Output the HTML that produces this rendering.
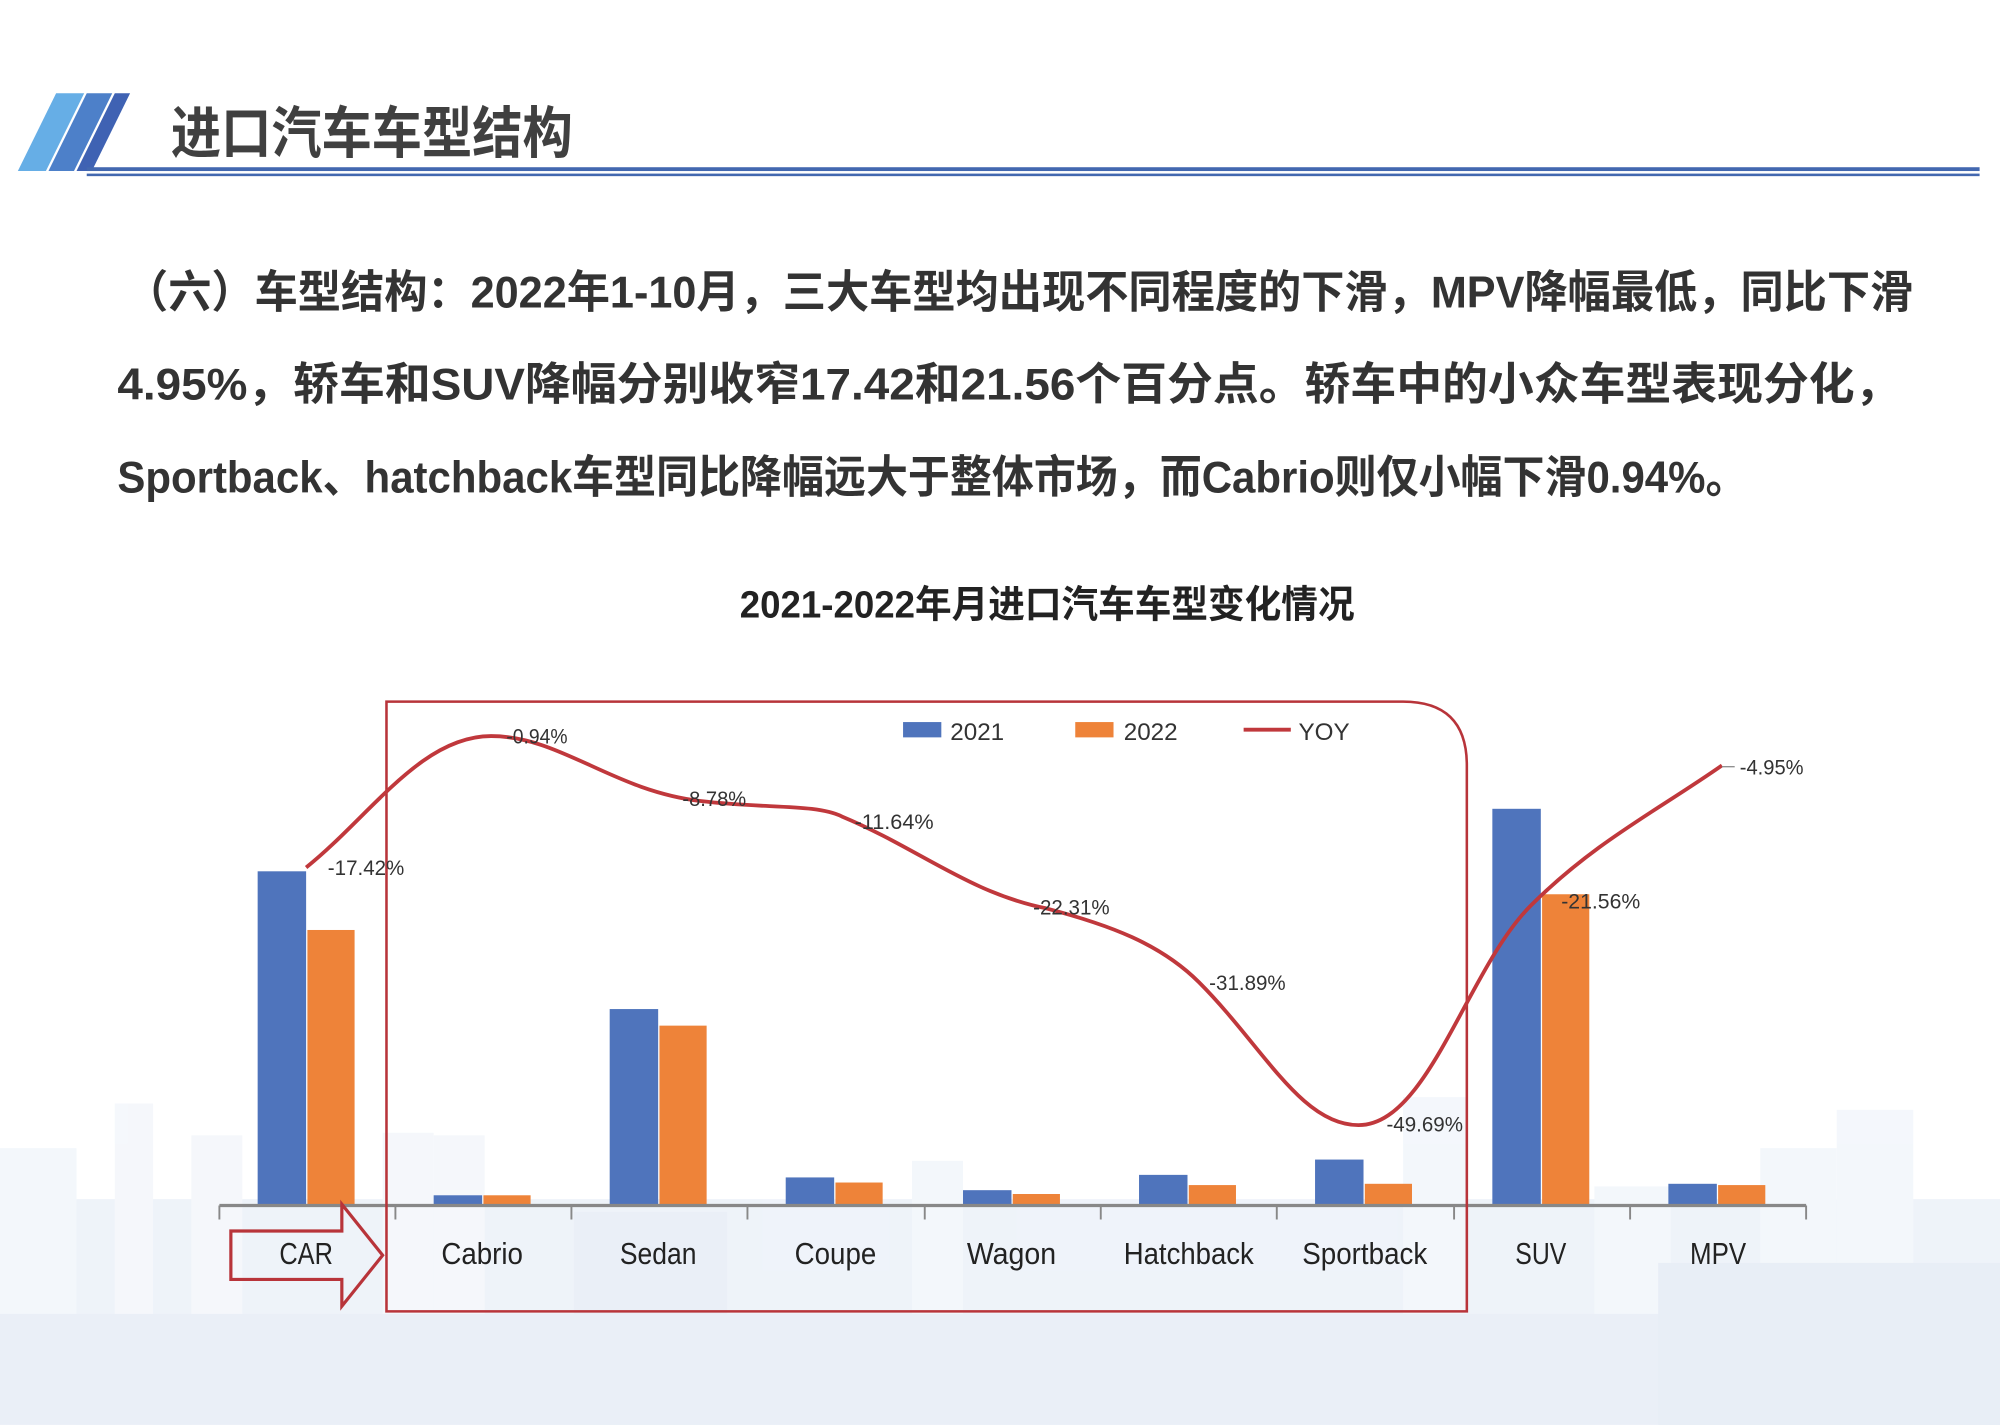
<!DOCTYPE html>
<html><head><meta charset="utf-8">
<style>
html,body{margin:0;padding:0;background:#fff;}
svg{display:block;}
text{font-family:"Liberation Sans","Noto Sans CJK SC",sans-serif;}
</style></head>
<body>
<svg width="2000" height="1425" viewBox="0 0 1568 1117" xmlns="http://www.w3.org/2000/svg">
<!-- skyline background -->
<g fill="#e6edf7" opacity="0.65">
<rect x="0" y="940" width="1568" height="177"/>
<rect x="0" y="900" width="60" height="217" fill="#eef3fa"/>
<rect x="90" y="865" width="30" height="252" fill="#f0f4fa"/>
<rect x="150" y="890" width="40" height="227" fill="#f0f4fa"/>
<rect x="300" y="888" width="40" height="229" fill="#f0f4fa"/>
<rect x="340" y="890" width="40" height="227" fill="#f0f4fa"/>
<rect x="450" y="950" width="120" height="167" fill="#dfe7f3"/>
<rect x="715" y="910" width="40" height="207" fill="#eef3fa"/>
<rect x="1100" y="860" width="50" height="257" fill="#eef3fa"/>
<rect x="1250" y="930" width="60" height="187" fill="#eef3fa"/>
<rect x="1380" y="900" width="60" height="217" fill="#eef3fa"/>
<rect x="1440" y="870" width="60" height="247" fill="#eef3fa"/>
<rect x="0" y="1030" width="1568" height="87" fill="#dfe7f3"/>
<rect x="1300" y="990" width="268" height="127" fill="#dde5f2"/>
</g>
<!-- header -->
<polygon points="14,134 44,73 66,73 36,134" fill="#66aee6"/>
<polygon points="38,134 68,73 88,73 58,134" fill="#4d80c9"/>
<polygon points="60,134 90,73 102,73 72,134" fill="#3f62b3"/>
<text x="134" y="120" font-size="44" font-weight="bold" fill="#404040" textLength="315" lengthAdjust="spacingAndGlyphs">进口汽车车型结构</text>
<rect x="68" y="131" width="1484" height="3" fill="#4368b0"/>
<rect x="68" y="136" width="1484" height="2" fill="#4368b0"/>
<!-- paragraph -->
<g font-size="35" font-weight="bold" fill="#333">
<text x="98" y="241" textLength="1402" lengthAdjust="spacingAndGlyphs">（六）车型结构：2022年1-10月，三大车型均出现不同程度的下滑，MPV降幅最低，同比下滑</text>
<text x="92" y="313" textLength="1398" lengthAdjust="spacingAndGlyphs">4.95%，轿车和SUV降幅分别收窄17.42和21.56个百分点。轿车中的小众车型表现分化，</text>
<text x="92" y="386" textLength="1278" lengthAdjust="spacingAndGlyphs">Sportback、hatchback车型同比降幅远大于整体市场，而Cabrio则仅小幅下滑0.94%。</text>
</g>
<text x="580" y="484" font-size="30" font-weight="bold" fill="#222" textLength="482" lengthAdjust="spacingAndGlyphs">2021-2022年月进口汽车车型变化情况</text>
<!-- bars -->
<g>
<rect x="202" y="683" width="38" height="261" fill="#4f74bc"/><rect x="241" y="729" width="37" height="215" fill="#ee8339"/>
<rect x="340" y="937" width="38" height="7" fill="#4f74bc"/><rect x="379" y="937" width="37" height="7" fill="#ee8339"/>
<rect x="478" y="791" width="38" height="153" fill="#4f74bc"/><rect x="517" y="804" width="37" height="140" fill="#ee8339"/>
<rect x="616" y="923" width="38" height="21" fill="#4f74bc"/><rect x="655" y="927" width="37" height="17" fill="#ee8339"/>
<rect x="755" y="933" width="38" height="11" fill="#4f74bc"/><rect x="794" y="936" width="37" height="8" fill="#ee8339"/>
<rect x="893" y="921" width="38" height="23" fill="#4f74bc"/><rect x="932" y="929" width="37" height="15" fill="#ee8339"/>
<rect x="1031" y="909" width="38" height="35" fill="#4f74bc"/><rect x="1070" y="928" width="37" height="16" fill="#ee8339"/>
<rect x="1170" y="634" width="38" height="310" fill="#4f74bc"/><rect x="1209" y="701" width="37" height="243" fill="#ee8339"/>
<rect x="1308" y="928" width="38" height="16" fill="#4f74bc"/><rect x="1347" y="929" width="37" height="15" fill="#ee8339"/>
</g>
<!-- axis -->
<line x1="172" y1="945" x2="1416" y2="945" stroke="#888" stroke-width="2.5"/>
<g stroke="#888" stroke-width="1.5">
<line x1="172" y1="945" x2="172" y2="956"/><line x1="310" y1="945" x2="310" y2="956"/><line x1="448" y1="945" x2="448" y2="956"/>
<line x1="586" y1="945" x2="586" y2="956"/><line x1="725" y1="945" x2="725" y2="956"/><line x1="863" y1="945" x2="863" y2="956"/>
<line x1="1001" y1="945" x2="1001" y2="956"/><line x1="1140" y1="945" x2="1140" y2="956"/><line x1="1278" y1="945" x2="1278" y2="956"/>
<line x1="1416" y1="945" x2="1416" y2="956"/>
</g>
<g font-size="24" fill="#222" text-anchor="middle">
<text x="240" y="991" textLength="42" lengthAdjust="spacingAndGlyphs">CAR</text>
<text x="378" y="991" textLength="64" lengthAdjust="spacingAndGlyphs">Cabrio</text>
<text x="516" y="991" textLength="60" lengthAdjust="spacingAndGlyphs">Sedan</text>
<text x="655" y="991" textLength="64" lengthAdjust="spacingAndGlyphs">Coupe</text>
<text x="793" y="991" textLength="70" lengthAdjust="spacingAndGlyphs">Wagon</text>
<text x="932" y="991" textLength="102" lengthAdjust="spacingAndGlyphs">Hatchback</text>
<text x="1070" y="991" textLength="98" lengthAdjust="spacingAndGlyphs">Sportback</text>
<text x="1208" y="991" textLength="40" lengthAdjust="spacingAndGlyphs">SUV</text>
<text x="1347" y="991" textLength="44" lengthAdjust="spacingAndGlyphs">MPV</text>
</g>
<!-- arrow -->
<polygon points="181,965 268,965 268,944 300,984 268,1024 268,1003 181,1003" fill="none" stroke="#b8343a" stroke-width="2.5"/>
<!-- red rounded box -->
<path d="M303,550 L1100,550 Q1150,550 1150,600 L1150,1028 L303,1028 Z" fill="none" stroke="#b8343a" stroke-width="2"/>
<!-- YOY line -->
<path d="M240,680 C290,640 330,577 385,577 C440,577 480,620 550,628 C600,634 640,630 660,640 C720,665 760,700 820,712 C870,725 910,740 940,770 C990,820 1020,882 1065,882 C1120,882 1150,760 1200,710 C1250,660 1300,635 1350,600" fill="none" stroke="#c0383c" stroke-width="3"/>
<g font-size="17" fill="#333">
<text x="257" y="686" textLength="60" lengthAdjust="spacingAndGlyphs">-17.42%</text>
<text x="397" y="583" textLength="48" lengthAdjust="spacingAndGlyphs">-0.94%</text>
<text x="535" y="632" textLength="50" lengthAdjust="spacingAndGlyphs">-8.78%</text>
<text x="670" y="650" textLength="62" lengthAdjust="spacingAndGlyphs">-11.64%</text>
<text x="810" y="717" textLength="60" lengthAdjust="spacingAndGlyphs">-22.31%</text>
<text x="948" y="776" textLength="60" lengthAdjust="spacingAndGlyphs">-31.89%</text>
<text x="1087" y="887" textLength="60" lengthAdjust="spacingAndGlyphs">-49.69%</text>
<text x="1224" y="712" textLength="62" lengthAdjust="spacingAndGlyphs">-21.56%</text>
<text x="1364" y="607" textLength="50" lengthAdjust="spacingAndGlyphs">-4.95%</text>
</g>
<line x1="1350" y1="601" x2="1360" y2="601" stroke="#888" stroke-width="1"/>
<!-- legend -->
<rect x="708" y="566" width="30" height="12" fill="#4f74bc"/>
<text x="745" y="580" font-size="19" fill="#333">2021</text>
<rect x="843" y="566" width="30" height="12" fill="#ee8339"/>
<text x="881" y="580" font-size="19" fill="#333">2022</text>
<line x1="975" y1="572" x2="1012" y2="572" stroke="#c0383c" stroke-width="3"/>
<text x="1018" y="580" font-size="19" fill="#333">YOY</text>
</svg>
</body></html>
